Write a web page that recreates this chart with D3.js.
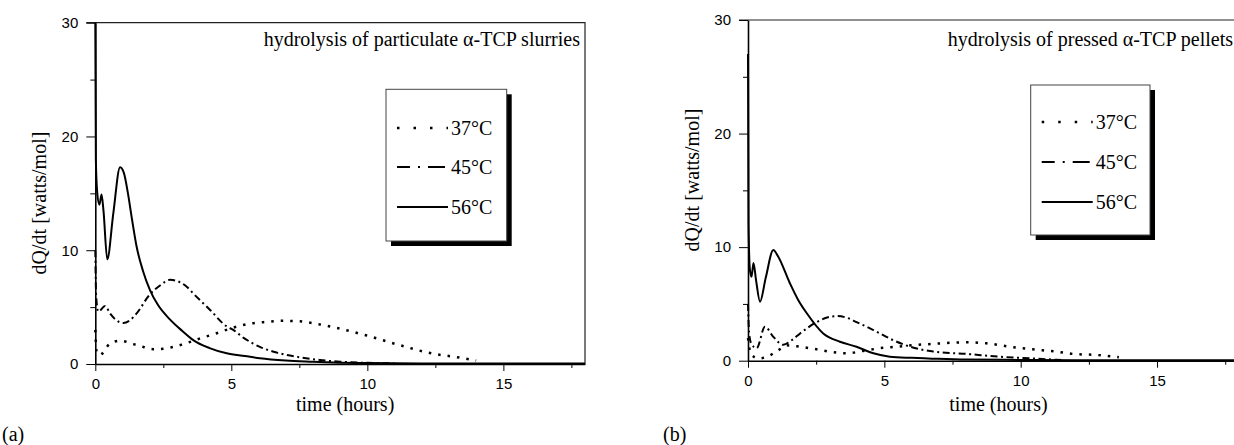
<!DOCTYPE html>
<html>
<head>
<meta charset="utf-8">
<script src="https://cdn.jsdelivr.net/npm/d3@7/dist/d3.min.js"></script>
<style>
  body { margin: 0; background: #fff; }
  svg { display: block; }
  .serif { font-family: "Liberation Serif", "Times New Roman", serif; font-size: 20px; fill: #000; }
  .tick text { font-family: "Liberation Sans", Arial, sans-serif; font-size: 15px; fill: #000; }
</style>
</head>
<body>
<script>
// values (time in hours, dQ/dt in watts/mol)

var tempLabels = ["37°C", "45°C", "56°C"];
var xTicks = [0, 5, 10, 15], xMinorTicks = [2.5, 7.5, 12.5, 17.5];
var yTicks = [0, 10, 20, 30], yMinorTicks = [5, 15, 25];

// (a) particulate slurries
var hoursA37 = [0, 0.05, 0.17, 0.54, 0.91, 1.4, 1.77, 2.13, 2.62, 3.24, 3.85, 4.46, 5.07, 5.7, 6.3, 6.9, 7.5, 8.2, 9.0, 9.98, 11.2, 12.43, 13.3, 14.0];
var heatA37  = [3.0, 1.0, 0.8, 1.8, 2.05, 1.75, 1.5, 1.3, 1.38, 1.75, 2.25, 2.7, 3.2, 3.55, 3.7, 3.8, 3.75, 3.5, 3.1, 2.5, 1.65, 0.9, 0.6, 0.3];

var hoursA45 = [0, 0.03, 0.11, 0.36, 0.54, 0.75, 1.03, 1.25, 1.52, 2.0, 2.38, 2.75, 3.1, 3.36, 3.6, 4.22, 4.83, 5.07, 5.45, 5.8, 6.05, 6.67, 7.5, 8.26, 9.0, 10.0, 11.0];
var heatA45  = [10, 6, 4.6, 5.1, 4.45, 3.9, 3.6, 3.8, 4.45, 6.1, 6.9, 7.4, 7.2, 6.8, 6.2, 4.75, 3.3, 3.0, 2.3, 1.8, 1.5, 1.0, 0.6, 0.35, 0.2, 0.1, 0.05];

var hoursA56 = [0, 0.02, 0.07, 0.15, 0.23, 0.3, 0.44, 0.66, 0.91, 1.05, 1.2, 1.35, 1.52, 1.75, 2.01, 2.3, 2.75, 3.2, 3.6, 4.2, 4.83, 5.5, 6.05, 7, 8, 9, 10, 12, 14, 16, 18];
var heatA56  = [30, 18, 15.1, 14.0, 14.9, 13.5, 9.2, 13.2, 17.3, 16.8, 15.0, 12.7, 10.3, 8.2, 6.5, 5.2, 3.9, 2.9, 2.1, 1.4, 0.94, 0.7, 0.5, 0.3, 0.2, 0.12, 0.08, 0.05, 0.05, 0.05, 0.05];

// (b) pressed pellets
var hoursB37 = [0, 0.1, 0.38, 0.74, 1.1, 1.42, 1.91, 2.52, 3.0, 3.62, 4.2, 4.84, 5.45, 6.2, 6.55, 7.4, 8.0, 8.75, 9.6, 10.45, 11.3, 11.9, 12.8, 13.6];
var heatB37  = [2.0, 0.6, 0.2, 0.4, 0.9, 1.35, 1.23, 1.0, 0.8, 0.65, 0.85, 1.1, 1.23, 1.4, 1.44, 1.58, 1.62, 1.53, 1.23, 1.0, 0.8, 0.6, 0.5, 0.3];

var hoursB45 = [0, 0.04, 0.12, 0.32, 0.62, 0.93, 1.29, 1.6, 1.91, 2.52, 2.9, 3.25, 3.6, 3.98, 4.6, 5.33, 5.95, 6.8, 8.0, 9.24, 10.45, 11.5];
var heatB45  = [5.0, 2.5, 1.5, 1.1, 3.0, 2.1, 1.4, 1.8, 2.4, 3.4, 3.8, 3.93, 3.8, 3.4, 2.7, 1.8, 1.23, 0.8, 0.6, 0.35, 0.2, 0.05];

var hoursB56 = [0, 0.02, 0.07, 0.13, 0.2, 0.3, 0.44, 0.65, 0.93, 1.1, 1.54, 1.84, 2.15, 2.76, 3.37, 3.98, 4.6, 5.2, 6.0, 6.6, 8, 10, 12, 14, 16, 18];
var heatB56  = [27, 12, 8.0, 7.4, 8.6, 7.0, 5.2, 7.3, 9.75, 9.2, 6.8, 5.35, 4.2, 2.4, 1.67, 1.23, 0.65, 0.35, 0.25, 0.2, 0.1, 0.07, 0.05, 0.05, 0.05, 0.05];

// line styles: dotted, dash-dot, solid
var styles = [
  {dash: "2.5,7", legendDash: "2.5,14", width: 2.5},
  {dash: "7,3.5,2,3.5", legendDash: "13,8,2,8,17", width: 2},
  {dash: null, legendDash: null, width: 2}
];

function zip(xs, ys) {
  var out = [];
  for (var i = 0; i < xs.length; i++) out.push({x: xs[i], y: ys[i]});
  return out;
}

var svg = d3.select("body").append("svg")
    .attr("width", 1234)
    .attr("height", 445);

function draw_panel(p) {
  // set the ranges
  var x = d3.scaleLinear().domain([0, 18]).range([p.left, p.right]);
  var y = d3.scaleLinear().domain([0, 30]).range([p.bottom, p.top]);

  var g = svg.append("g");

  // frame (top and right sides)
  g.append("path")
      .attr("d", "M" + (p.left - 9) + "," + p.top + "H" + p.right + "V" + p.bottom)
      .attr("fill", "none")
      .attr("stroke", "#222")
      .attr("stroke-width", 1.2);

  var clipId = "clip" + p.letter;
  g.append("clipPath").attr("id", clipId)
    .append("rect")
      .attr("x", p.left - 2).attr("y", p.top - 1)
      .attr("width", p.right - p.left + 4).attr("height", p.bottom - p.top + 4);

  // curves
  var line = d3.line()
      .x(function(d) { return x(d.x); })
      .y(function(d) { return y(d.y); })
      .curve(d3.curveMonotoneX);

  p.series.forEach(function(s, i) {
    g.append("path")
        .datum(s)
        .attr("clip-path", "url(#" + clipId + ")")
        .attr("fill", "none")
        .attr("stroke", "#000")
        .attr("stroke-width", styles[i].width)
        .attr("stroke-dasharray", styles[i].dash)
        .attr("d", line);
  });

  // add the x Axis (major + minor ticks)
  var xAxis = g.append("g")
      .attr("transform", "translate(0," + p.bottom + ")")
      .call(d3.axisBottom(x).tickValues(xTicks).tickSize(7).tickSizeOuter(0).tickPadding(p.xPad));
  g.append("g")
      .attr("transform", "translate(0," + p.bottom + ")")
      .call(d3.axisBottom(x).tickValues(xMinorTicks).tickSize(4).tickSizeOuter(0).tickFormat(""))
      .select(".domain").remove();
  xAxis.select(".domain").attr("stroke-width", 1.6);

  // add the y Axis (major + minor ticks)
  var yAxis = g.append("g")
      .attr("transform", "translate(" + p.left + ",0)")
      .call(d3.axisLeft(y).tickValues(yTicks).tickSize(9).tickSizeOuter(0).tickPadding(8));
  g.append("g")
      .attr("transform", "translate(" + p.left + ",0)")
      .call(d3.axisLeft(y).tickValues(yMinorTicks).tickSize(5).tickSizeOuter(0).tickFormat(""))
      .select(".domain").remove();
  yAxis.select(".domain").attr("stroke-width", 1.6);

  // axis titles
  g.append("text")
      .attr("class", "serif")
      .attr("x", (p.left + p.right) / 2 + 5)
      .attr("y", 410.5)
      .attr("text-anchor", "middle")
      .text("time (hours)");

  g.append("text")
      .attr("class", "serif")
      .attr("transform", "translate(" + p.yTitleX + "," + p.yTitleY + ") rotate(-90)")
      .attr("text-anchor", "middle")
      .text("dQ/dt [watts/mol]");

  // panel title and letter
  g.append("text")
      .attr("class", "serif")
      .attr("x", p.titleX)
      .attr("y", 46)
      .attr("text-anchor", "end")
      .text(p.title);

  g.append("text")
      .attr("class", "serif")
      .attr("x", p.letterX)
      .attr("y", 441)
      .text("(" + p.letter + ")");

  // legend box with drop shadow
  var lb = p.legend;
  g.append("rect")
      .attr("x", lb.x + 5).attr("y", lb.y + 5)
      .attr("width", lb.w).attr("height", lb.h)
      .attr("fill", "#000");
  g.append("rect")
      .attr("x", lb.x).attr("y", lb.y)
      .attr("width", lb.w).attr("height", lb.h)
      .attr("fill", "#fff")
      .attr("stroke", "#444")
      .attr("stroke-width", 1);

  tempLabels.forEach(function(label, i) {
    var ry = lb.rowY[i];
    g.append("line")
        .attr("x1", lb.x + 11).attr("x2", lb.x + 62)
        .attr("y1", ry).attr("y2", ry)
        .attr("stroke", "#000")
        .attr("stroke-width", styles[i].width)
        .attr("stroke-dasharray", styles[i].legendDash);
    g.append("text")
        .attr("class", "serif")
        .attr("x", lb.x + 65)
        .attr("y", ry)
        .attr("dy", "0.35em")
        .text(label);
  });
}

draw_panel({
  letter: "a", left: 95.3, right: 585, top: 22.7, bottom: 364, xPad: 7,
  title: "hydrolysis of particulate α-TCP slurries", titleX: 580, letterX: 2,
  yTitleX: 45.5, yTitleY: 203,
  legend: {x: 386, y: 89.3, w: 120.7, h: 151.7, rowY: [128, 167, 207]},
  series: [zip(hoursA37, heatA37), zip(hoursA45, heatA45), zip(hoursA56, heatA56)]
});

draw_panel({
  letter: "b", left: 748, right: 748 + 18 * 27.27, top: 20, bottom: 360.7, xPad: 8,
  title: "hydrolysis of pressed α-TCP pellets", titleX: 1233, letterX: 663,
  yTitleX: 699, yTitleY: 180,
  legend: {x: 1030.7, y: 85, w: 119.3, h: 150, rowY: [122, 162, 202]},
  series: [zip(hoursB37, heatB37), zip(hoursB45, heatB45), zip(hoursB56, heatB56)]
});
</script>
</body>
</html>
